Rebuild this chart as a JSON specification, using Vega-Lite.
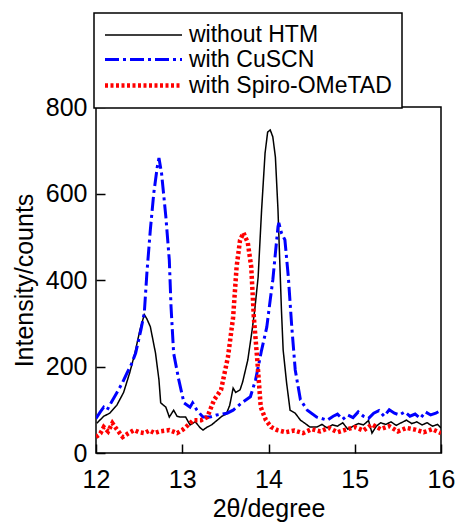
{
  "$schema": "https://vega.github.io/schema/vega-lite/v6.json",
  "width": 345,
  "height": 346,
  "autosize": {"type": "none"},
  "padding": {"left": 96, "top": 107, "right": 15, "bottom": 70},
  "background": "white",
  "config": {
    "font": "Liberation Sans",
    "view": {"stroke": "black", "strokeWidth": 1.5},
    "legend": {"strokeColor": "black", "fillColor": "white"},
    "axis": {"grid": false, "domain": false, "labelColor": "black", "titleColor": "black", "labelFont": "Liberation Sans", "titleFont": "Liberation Sans", "titleFontWeight": "normal"}
  },
  "data": {"values": [
    {"s":"without HTM","x":12.01,"y":69},{"s":"without HTM","x":12.09,"y":85},{"s":"without HTM","x":12.16,"y":92},{"s":"without HTM","x":12.24,"y":110},{"s":"without HTM","x":12.32,"y":140},{"s":"without HTM","x":12.39,"y":185},{"s":"without HTM","x":12.45,"y":230},{"s":"without HTM","x":12.51,"y":285},{"s":"without HTM","x":12.56,"y":320},{"s":"without HTM","x":12.59,"y":310},{"s":"without HTM","x":12.63,"y":292},{"s":"without HTM","x":12.69,"y":231},{"s":"without HTM","x":12.73,"y":169},{"s":"without HTM","x":12.75,"y":116},{"s":"without HTM","x":12.81,"y":106},{"s":"without HTM","x":12.85,"y":83},{"s":"without HTM","x":12.90,"y":99},{"s":"without HTM","x":12.94,"y":85},{"s":"without HTM","x":12.98,"y":83},{"s":"without HTM","x":13.04,"y":83},{"s":"without HTM","x":13.09,"y":65},{"s":"without HTM","x":13.15,"y":72},{"s":"without HTM","x":13.21,"y":58},{"s":"without HTM","x":13.24,"y":53},{"s":"without HTM","x":13.29,"y":60},{"s":"without HTM","x":13.34,"y":65},{"s":"without HTM","x":13.40,"y":75},{"s":"without HTM","x":13.46,"y":85},{"s":"without HTM","x":13.51,"y":90},{"s":"without HTM","x":13.55,"y":110},{"s":"without HTM","x":13.59,"y":150},{"s":"without HTM","x":13.62,"y":140},{"s":"without HTM","x":13.67,"y":146},{"s":"without HTM","x":13.70,"y":164},{"s":"without HTM","x":13.76,"y":215},{"s":"without HTM","x":13.81,"y":284},{"s":"without HTM","x":13.84,"y":330},{"s":"without HTM","x":13.88,"y":407},{"s":"without HTM","x":13.92,"y":562},{"s":"without HTM","x":13.96,"y":693},{"s":"without HTM","x":13.99,"y":742},{"s":"without HTM","x":14.02,"y":747},{"s":"without HTM","x":14.05,"y":731},{"s":"without HTM","x":14.08,"y":684},{"s":"without HTM","x":14.11,"y":562},{"s":"without HTM","x":14.13,"y":446},{"s":"without HTM","x":14.15,"y":331},{"s":"without HTM","x":14.17,"y":238},{"s":"without HTM","x":14.21,"y":162},{"s":"without HTM","x":14.25,"y":99},{"s":"without HTM","x":14.31,"y":92},{"s":"without HTM","x":14.37,"y":76},{"s":"without HTM","x":14.42,"y":69},{"s":"without HTM","x":14.48,"y":60},{"s":"without HTM","x":14.56,"y":60},{"s":"without HTM","x":14.62,"y":66},{"s":"without HTM","x":14.68,"y":58},{"s":"without HTM","x":14.74,"y":65},{"s":"without HTM","x":14.80,"y":62},{"s":"without HTM","x":14.86,"y":70},{"s":"without HTM","x":14.92,"y":55},{"s":"without HTM","x":14.98,"y":62},{"s":"without HTM","x":15.04,"y":68},{"s":"without HTM","x":15.10,"y":65},{"s":"without HTM","x":15.16,"y":75},{"s":"without HTM","x":15.20,"y":46},{"s":"without HTM","x":15.25,"y":62},{"s":"without HTM","x":15.30,"y":70},{"s":"without HTM","x":15.36,"y":66},{"s":"without HTM","x":15.42,"y":72},{"s":"without HTM","x":15.48,"y":64},{"s":"without HTM","x":15.54,"y":70},{"s":"without HTM","x":15.60,"y":76},{"s":"without HTM","x":15.66,"y":68},{"s":"without HTM","x":15.72,"y":72},{"s":"without HTM","x":15.78,"y":65},{"s":"without HTM","x":15.84,"y":70},{"s":"without HTM","x":15.90,"y":62},{"s":"without HTM","x":15.96,"y":66},{"s":"without HTM","x":16.00,"y":58},
    {"s":"with CuSCN","x":12.00,"y":80},{"s":"with CuSCN","x":12.05,"y":95},{"s":"with CuSCN","x":12.09,"y":106},{"s":"with CuSCN","x":12.13,"y":100},{"s":"with CuSCN","x":12.18,"y":118},{"s":"with CuSCN","x":12.24,"y":139},{"s":"with CuSCN","x":12.30,"y":160},{"s":"with CuSCN","x":12.36,"y":185},{"s":"with CuSCN","x":12.41,"y":205},{"s":"with CuSCN","x":12.46,"y":231},{"s":"with CuSCN","x":12.52,"y":284},{"s":"with CuSCN","x":12.56,"y":324},{"s":"with CuSCN","x":12.59,"y":416},{"s":"with CuSCN","x":12.63,"y":516},{"s":"with CuSCN","x":12.67,"y":601},{"s":"with CuSCN","x":12.71,"y":661},{"s":"with CuSCN","x":12.73,"y":682},{"s":"with CuSCN","x":12.76,"y":647},{"s":"with CuSCN","x":12.81,"y":546},{"s":"with CuSCN","x":12.85,"y":446},{"s":"with CuSCN","x":12.87,"y":338},{"s":"with CuSCN","x":12.90,"y":231},{"s":"with CuSCN","x":12.96,"y":169},{"s":"with CuSCN","x":13.02,"y":116},{"s":"with CuSCN","x":13.09,"y":106},{"s":"with CuSCN","x":13.12,"y":116},{"s":"with CuSCN","x":13.17,"y":99},{"s":"with CuSCN","x":13.24,"y":83},{"s":"with CuSCN","x":13.32,"y":83},{"s":"with CuSCN","x":13.40,"y":88},{"s":"with CuSCN","x":13.52,"y":92},{"s":"with CuSCN","x":13.59,"y":99},{"s":"with CuSCN","x":13.69,"y":116},{"s":"with CuSCN","x":13.79,"y":130},{"s":"with CuSCN","x":13.85,"y":169},{"s":"with CuSCN","x":13.92,"y":238},{"s":"with CuSCN","x":13.98,"y":291},{"s":"with CuSCN","x":14.02,"y":354},{"s":"with CuSCN","x":14.05,"y":400},{"s":"with CuSCN","x":14.08,"y":462},{"s":"with CuSCN","x":14.11,"y":523},{"s":"with CuSCN","x":14.12,"y":532},{"s":"with CuSCN","x":14.15,"y":509},{"s":"with CuSCN","x":14.19,"y":493},{"s":"with CuSCN","x":14.23,"y":407},{"s":"with CuSCN","x":14.27,"y":291},{"s":"with CuSCN","x":14.31,"y":192},{"s":"with CuSCN","x":14.37,"y":123},{"s":"with CuSCN","x":14.45,"y":99},{"s":"with CuSCN","x":14.56,"y":83},{"s":"with CuSCN","x":14.68,"y":76},{"s":"with CuSCN","x":14.75,"y":85},{"s":"with CuSCN","x":14.80,"y":90},{"s":"with CuSCN","x":14.86,"y":78},{"s":"with CuSCN","x":14.92,"y":88},{"s":"with CuSCN","x":14.98,"y":82},{"s":"with CuSCN","x":15.04,"y":95},{"s":"with CuSCN","x":15.10,"y":85},{"s":"with CuSCN","x":15.16,"y":80},{"s":"with CuSCN","x":15.22,"y":92},{"s":"with CuSCN","x":15.28,"y":98},{"s":"with CuSCN","x":15.34,"y":85},{"s":"with CuSCN","x":15.40,"y":100},{"s":"with CuSCN","x":15.46,"y":92},{"s":"with CuSCN","x":15.52,"y":88},{"s":"with CuSCN","x":15.58,"y":95},{"s":"with CuSCN","x":15.64,"y":85},{"s":"with CuSCN","x":15.70,"y":90},{"s":"with CuSCN","x":15.76,"y":80},{"s":"with CuSCN","x":15.82,"y":95},{"s":"with CuSCN","x":15.88,"y":88},{"s":"with CuSCN","x":15.94,"y":92},{"s":"with CuSCN","x":16.00,"y":99},
    {"s":"with Spiro-OMeTAD","x":12.00,"y":37},{"s":"with Spiro-OMeTAD","x":12.05,"y":45},{"s":"with Spiro-OMeTAD","x":12.09,"y":60},{"s":"with Spiro-OMeTAD","x":12.14,"y":50},{"s":"with Spiro-OMeTAD","x":12.19,"y":69},{"s":"with Spiro-OMeTAD","x":12.24,"y":55},{"s":"with Spiro-OMeTAD","x":12.31,"y":37},{"s":"with Spiro-OMeTAD","x":12.37,"y":45},{"s":"with Spiro-OMeTAD","x":12.44,"y":53},{"s":"with Spiro-OMeTAD","x":12.50,"y":48},{"s":"with Spiro-OMeTAD","x":12.56,"y":46},{"s":"with Spiro-OMeTAD","x":12.62,"y":52},{"s":"with Spiro-OMeTAD","x":12.68,"y":46},{"s":"with Spiro-OMeTAD","x":12.74,"y":50},{"s":"with Spiro-OMeTAD","x":12.85,"y":53},{"s":"with Spiro-OMeTAD","x":12.94,"y":46},{"s":"with Spiro-OMeTAD","x":13.00,"y":53},{"s":"with Spiro-OMeTAD","x":13.07,"y":65},{"s":"with Spiro-OMeTAD","x":13.13,"y":76},{"s":"with Spiro-OMeTAD","x":13.22,"y":76},{"s":"with Spiro-OMeTAD","x":13.29,"y":83},{"s":"with Spiro-OMeTAD","x":13.37,"y":123},{"s":"with Spiro-OMeTAD","x":13.45,"y":146},{"s":"with Spiro-OMeTAD","x":13.53,"y":222},{"s":"with Spiro-OMeTAD","x":13.59,"y":314},{"s":"with Spiro-OMeTAD","x":13.63,"y":430},{"s":"with Spiro-OMeTAD","x":13.67,"y":492},{"s":"with Spiro-OMeTAD","x":13.71,"y":509},{"s":"with Spiro-OMeTAD","x":13.76,"y":486},{"s":"with Spiro-OMeTAD","x":13.80,"y":430},{"s":"with Spiro-OMeTAD","x":13.83,"y":314},{"s":"with Spiro-OMeTAD","x":13.87,"y":215},{"s":"with Spiro-OMeTAD","x":13.91,"y":106},{"s":"with Spiro-OMeTAD","x":13.97,"y":76},{"s":"with Spiro-OMeTAD","x":14.03,"y":60},{"s":"with Spiro-OMeTAD","x":14.10,"y":53},{"s":"with Spiro-OMeTAD","x":14.20,"y":48},{"s":"with Spiro-OMeTAD","x":14.30,"y":52},{"s":"with Spiro-OMeTAD","x":14.40,"y":46},{"s":"with Spiro-OMeTAD","x":14.50,"y":55},{"s":"with Spiro-OMeTAD","x":14.60,"y":50},{"s":"with Spiro-OMeTAD","x":14.70,"y":58},{"s":"with Spiro-OMeTAD","x":14.80,"y":48},{"s":"with Spiro-OMeTAD","x":14.90,"y":54},{"s":"with Spiro-OMeTAD","x":15.00,"y":60},{"s":"with Spiro-OMeTAD","x":15.10,"y":52},{"s":"with Spiro-OMeTAD","x":15.20,"y":66},{"s":"with Spiro-OMeTAD","x":15.30,"y":55},{"s":"with Spiro-OMeTAD","x":15.40,"y":62},{"s":"with Spiro-OMeTAD","x":15.50,"y":50},{"s":"with Spiro-OMeTAD","x":15.60,"y":58},{"s":"with Spiro-OMeTAD","x":15.70,"y":54},{"s":"with Spiro-OMeTAD","x":15.80,"y":48},{"s":"with Spiro-OMeTAD","x":15.90,"y":55},{"s":"with Spiro-OMeTAD","x":16.00,"y":46}
  ]},
  "mark": {"type": "line", "clip": true},
  "encoding": {
    "x": {"field": "x", "type": "quantitative", "scale": {"domain": [12, 16], "nice": false},
      "axis": {"title": "2θ/degree", "values": [12, 13, 14, 15, 16], "format": "d", "offset": -9, "ticks": true, "tickSize": 9, "tickWidth": 1.5, "tickColor": "#000000", "labelFontSize": 25, "titleFontSize": 25, "labelPadding": 14, "titlePadding": 4, "labelFlush": false}},
    "y": {"field": "y", "type": "quantitative", "scale": {"domain": [0, 800], "nice": false},
      "axis": {"title": "Intensity/counts", "values": [0, 200, 400, 600, 800], "offset": -9, "ticks": true, "tickSize": 9, "tickWidth": 1.5, "tickColor": "#000000", "labelFontSize": 25, "titleFontSize": 25, "labelPadding": 9, "titlePadding": 8}},
    "color": {"field": "s", "type": "nominal",
      "scale": {"domain": ["without HTM", "with CuSCN", "with Spiro-OMeTAD"], "range": ["#000000", "#0000ff", "#ff0000"]},
      "legend": {"title": null, "orient": "none", "legendX": -2, "legendY": -94, "padding": 10, "symbolType": "M-3.5,0H3.5", "symbolSize": 484, "symbolOffset": 26, "labelFontSize": 23, "labelLimit": 400, "rowPadding": -1, "labelOffset": 32, "labelColor": "black",
        "encode": {"legend": {"update": {"strokeWidth": {"value": 1.5}}}}}},
    "strokeDash": {"field": "s", "type": "nominal",
      "scale": {"domain": ["without HTM", "with CuSCN", "with Spiro-OMeTAD"], "range": [[1, 0], [14, 4, 3, 4], [3, 2.5]]}},
    "strokeWidth": {"field": "s", "type": "nominal",
      "scale": {"domain": ["without HTM", "with CuSCN", "with Spiro-OMeTAD"], "range": [1.5, 4.5, 3.5]}}
  }
}
